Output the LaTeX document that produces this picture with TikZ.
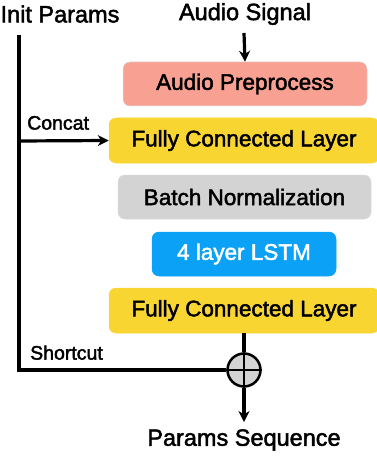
\documentclass[tikz,border=0pt]{standalone}
\usepackage{fontspec}
\setmainfont{Liberation Sans}
\newfontfamily\medfont{Liberation Sans}[FakeBold=2]
\usetikzlibrary{arrows.meta}
\definecolor{salmon}{HTML}{F8A193}
\definecolor{fcyellow}{HTML}{F9D531}
\definecolor{bngray}{HTML}{D3D3D3}
\definecolor{lstmblue}{HTML}{0AA1F7}
\begin{document}
\begin{tikzpicture}[x=1pt,y=-1pt,
  layer/.style={rounded corners=7pt,draw=black!15,line width=0.5pt,inner sep=0pt,font=\medfont\fontsize{22.5}{24}\selectfont},
  lbl/.style={inner sep=0pt,font=\medfont\fontsize{23.5}{26}\selectfont},
  small/.style={inner sep=0pt,font=\medfont\fontsize{19.5}{21}\selectfont},
  line/.style={line width=3.2pt},
  arr/.style={line width=3.2pt,-{Stealth[length=11pt,width=11pt,inset=3.5pt]}}]
\useasboundingbox (0,0) rectangle (376,457);
\node[lbl] (init) at (60,14) {Init Params};
\node[lbl] (audio) at (245,14) {Audio Signal};
\node[layer,fill=salmon,minimum width=244pt,minimum height=44pt] (pre) at (245,84) {Audio Preprocess};
\node[layer,fill=fcyellow,draw=fcyellow,minimum width=270pt,minimum height=45pt] (fc1) at (244,140.5) {Fully Connected Layer};
\node[layer,fill=bngray,minimum width=253pt,minimum height=44pt] (bn) at (244.5,197) {Batch Normalization};
\node[layer,fill=lstmblue,draw=lstmblue,text=white,minimum width=184pt,minimum height=44pt] (lstm) at (244,254) {4 layer LSTM};
\node[layer,fill=fcyellow,draw=fcyellow,minimum width=270pt,minimum height=45pt] (fc2) at (244,310.5) {Fully Connected Layer};
\node[circle,draw=black,line width=2.5pt,fill=bngray,minimum size=33pt,inner sep=0pt] (plus) at (244,370) {};
\draw[line width=2.5pt] (plus.north) -- (plus.south) (plus.west) -- (plus.east);
\node[lbl] (out) at (244,440) {Params Sequence};
\coordinate (top) at (19,35);
\coordinate (corner) at (19,370);
\coordinate (cc) at (19,141);
\node[small,anchor=south west] (concat) at (27,130) {Concat};
\node[small,anchor=south west] (short) at (30,360) {Shortcut};
\draw[arr] (244,33) -- (pre.north);
\draw[line] (top) -- (corner) -- (plus.west);
\draw[arr] (cc) -- (fc1.west);
\draw[line] (fc2.south) -- (plus.north);
\draw[arr] (plus.south) -- (244,422);
\end{tikzpicture}
\end{document}
